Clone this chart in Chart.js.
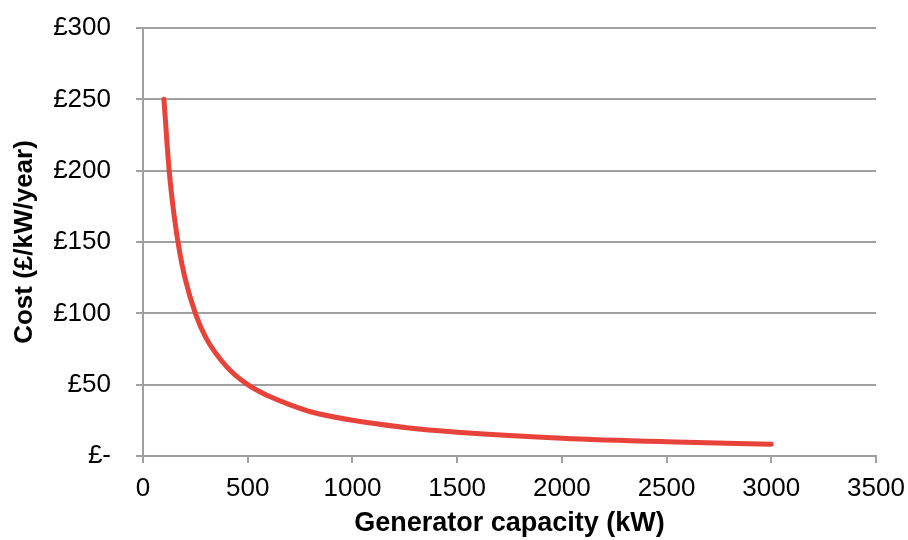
<!DOCTYPE html>
<html>
<head>
<meta charset="utf-8">
<script src="https://cdn.jsdelivr.net/npm/chart.js@4/dist/chart.umd.min.js"></script>
<style>
  html, body { margin: 0; padding: 0; background: #fff; }
  #wrap { width: 908px; height: 540px; }
</style>
</head>
<body>
<div id="wrap"><canvas id="costChart" width="908" height="540"></canvas></div>
<script>
const capacityKW = [100, 125, 150, 175, 200, 250, 300, 400, 500, 600, 700, 800, 1000, 1250, 1500, 2000, 2500, 3000];
const costPerKW = [250, 200, 167, 143, 125, 100, 83, 62.5, 50, 42, 36, 31, 25, 20, 16.7, 12.5, 10, 8.3];
const xTicks = [0, 500, 1000, 1500, 2000, 2500, 3000, 3500];
const yTicks = [0, 50, 100, 150, 200, 250, 300];

const fontFamily = '"Liberation Sans", Arial, sans-serif';
const gridGray = '#a0a0a0';

new Chart(document.getElementById('costChart').getContext('2d'), {
  type: 'line',
  data: {
    datasets: [{
      data: capacityKW.map((x, i) => ({ x: x, y: costPerKW[i] })),
      borderColor: '#e8433a',
      borderWidth: 5,
      borderCapStyle: 'round',
      pointRadius: 0,
      cubicInterpolationMode: 'monotone',
      fill: false
    }]
  },
  options: {
    responsive: false,
    animation: false,
    layout: { padding: { left: 0, right: 32, top: 28, bottom: 0 } },
    plugins: { legend: { display: false }, tooltip: { enabled: false } },
    scales: {
      x: {
        type: 'linear',
        min: 0,
        max: 3500,
        afterFit: s => { s.height = 84; s.paddingLeft = 0; s.paddingRight = 0; },
        afterBuildTicks: s => { s.ticks = xTicks.map(v => ({ value: v })); },
        border: { color: gridGray, width: 2 },
        grid: { drawOnChartArea: false, tickLength: 7, color: gridGray, lineWidth: 2 },
        ticks: {
          padding: 10,
          color: '#000',
          font: { family: fontFamily, size: 26 },
          callback: v => String(v)
        },
        title: {
          display: true,
          text: 'Generator capacity (kW)',
          color: '#000',
          padding: { top: 9, bottom: 0 },
          font: { family: fontFamily, size: 27, weight: 'bold' }
        }
      },
      y: {
        min: 0,
        max: 300,
        afterFit: s => { s.width = 143; s.paddingTop = 0; s.paddingBottom = 0; },
        afterBuildTicks: s => { s.ticks = yTicks.map(v => ({ value: v })); },
        border: { color: gridGray, width: 2 },
        grid: { tickLength: 7, color: gridGray, lineWidth: 2 },
        ticks: {
          padding: 25,
          color: '#000',
          font: { family: fontFamily, size: 26 },
          callback: v => v === 0 ? '£-' : '£' + v
        },
        title: {
          display: true,
          text: 'Cost (£/kW/year)',
          color: '#000',
          padding: { top: 9, bottom: 0 },
          font: { family: fontFamily, size: 26, weight: 'bold' }
        }
      }
    }
  }
});
</script>
</body>
</html>
